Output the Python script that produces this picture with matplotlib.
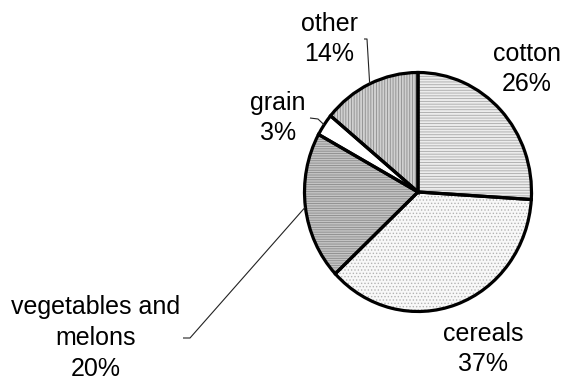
import matplotlib.pyplot as plt
import numpy as np

# data
crops = ['cotton', 'cereals', 'vegetables and\nmelons', 'grain', 'other']
shares = [26, 37, 20, 3, 14]

facecols = ['#ececec', '#f8f8f8', '#c4c4c4', '#ffffff', '#d0d0d0']
hatches = ['------', '.....', '-------', '', '||||||']
hatchcols = ['#a8a8a8', '#b4b4b4', '#8a8a8a', '#ffffff', '#8c8c8c']

W, H = 577, 383
cx, cy, rx, ry = 418, 192, 113.5, 119.5

plt.rcParams['hatch.linewidth'] = 0.6
plt.rcParams['font.family'] = ['Liberation Sans', 'DejaVu Sans']

fig = plt.figure(figsize=(W / 100, H / 100), dpi=100)
ax = fig.add_axes([(cx - rx) / W, (H - cy - ry) / H, 2 * rx / W, 2 * ry / H])

def px2data(px, py):
    return (px - cx) / rx, (cy - py) / ry

# filled + hatched wedges, then black outlines on top
fills, _ = ax.pie(shares, startangle=90, counterclock=False,
                  wedgeprops=dict(linewidth=0))
for w, fc, h, hc in zip(fills, facecols, hatches, hatchcols):
    w.set_facecolor(fc)
    w.set_edgecolor(hc)
    w.set_hatch(h)

outlines, _ = ax.pie(shares, startangle=90, counterclock=False,
                     wedgeprops=dict(fill=False, edgecolor='black', linewidth=2.3))

ax.set_aspect('auto')
ax.set_xlim(-1, 1)
ax.set_ylim(-1, 1)
ax.axis('off')

# label centres in pixels
label_pos = [(527, 69), (483, 349), (96, 338), (278, 118), (329, 39)]
# leaders: (tick start, tick end) or None
leaders = [None, None, ((183, 338), (190, 338)), ((310, 118), (318, 119)),
           ((364, 39), (367, 39))]

for name, pct, pos, w, ld in zip(crops, shares, label_pos, outlines, leaders):
    x, y = px2data(*pos)
    ax.text(x, y, f'{name}\n{pct}%', ha='center', va='center',
            multialignment='center', fontsize=18, linespacing=1.35,
            clip_on=False)
    if ld is not None:
        mid = np.deg2rad((w.theta1 + w.theta2) / 2)
        ex, ey = np.cos(mid), np.sin(mid)
        p0 = px2data(*ld[0])
        p1 = px2data(*ld[1])
        ax.plot([p0[0], p1[0], ex], [p0[1], p1[1], ey], color='#222222',
                lw=0.8, clip_on=False, solid_capstyle='butt')

fig.savefig('out.png', dpi=100)
